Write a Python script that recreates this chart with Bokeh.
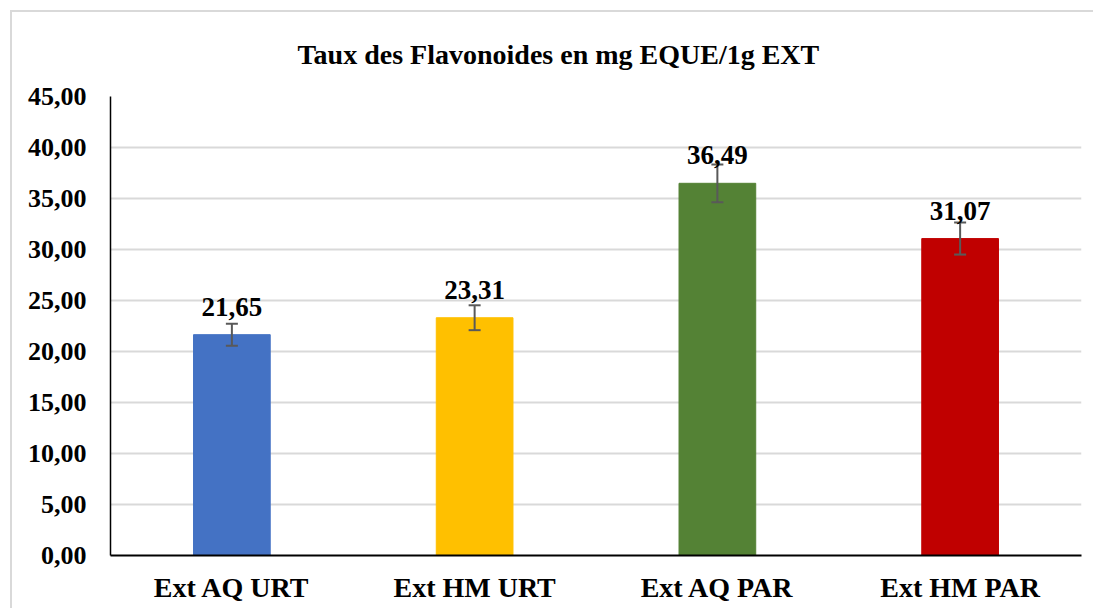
from bokeh.plotting import figure
from bokeh.models import (ColumnDataSource, FactorRange, Range1d, FixedTicker,
                          Whisker, TeeHead, LabelSet)
from bokeh.embed import file_html
from bokeh.resources import INLINE

# ---- data ----
categories = ["Ext AQ URT", "Ext HM URT", "Ext AQ PAR", "Ext HM PAR"]
values = [21.65, 23.31, 36.49, 31.07]
errors = [1.08, 1.22, 1.85, 1.57]
value_labels = ["21,65", "23,31", "36,49", "31,07"]
colors = ["#4472C4", "#FFC000", "#548235", "#C00000"]
y_ticks = [0, 5, 10, 15, 20, 25, 30, 35, 40, 45]
y_tick_labels = ["0,00", "5,00", "10,00", "15,00", "20,00", "25,00",
                 "30,00", "35,00", "40,00", "45,00"]
title_text = "Taux des Flavonoides en mg EQUE/1g EXT"

FONT = "Liberation Serif"

source = ColumnDataSource(dict(
    cat=categories,
    val=values,
    upper=[v + e for v, e in zip(values, errors)],
    lower=[v - e for v, e in zip(values, errors)],
    lab=value_labels,
    color=colors,
))

p = figure(x_range=FactorRange(*categories), y_range=Range1d(0, 45),
           width=1083, height=598, output_backend="svg", toolbar_location=None,
           min_border_left=98, min_border_right=14, min_border_top=84,
           min_border_bottom=55, title=title_text)
p.margin = (10, 0, 0, 10)
p.title.align = "left"
p.title.vertical_align = "top"
p.title.offset = 187
p.title.standoff = 50
p.title.text_font = FONT
p.title.text_font_style = "bold"
p.title.text_font_size = "28px"
p.title.text_color = "black"
p.outline_line_color = None
p.background_fill_color = "white"
p.border_fill_color = "white"

p.vbar(x="cat", top="val", width=0.316, color="color", source=source)

w = Whisker(base="cat", upper="upper", lower="lower", source=source,
            line_color="#595959", line_width=2, level="overlay",
            upper_head=TeeHead(size=12, line_color="#595959", line_width=2),
            lower_head=TeeHead(size=12, line_color="#595959", line_width=2))
p.add_layout(w)

labels = LabelSet(x="cat", y="val", text="lab", source=source,
                  text_align="center", text_baseline="alphabetic", y_offset=19,
                  text_font=FONT, text_font_style="bold", text_font_size="27px",
                  text_color="black", level="overlay")
p.add_layout(labels)

# y axis
p.yaxis.ticker = FixedTicker(ticks=y_ticks)
p.yaxis.major_label_overrides = {t: l for t, l in zip(y_ticks, y_tick_labels)}
p.yaxis.major_tick_line_color = None
p.yaxis.minor_tick_line_color = None
p.yaxis.axis_line_color = "black"
p.yaxis.axis_line_width = 1.5
p.yaxis.major_label_text_font = FONT
p.yaxis.major_label_text_font_style = "bold"
p.yaxis.major_label_text_font_size = "26px"
p.yaxis.major_label_text_color = "black"
p.yaxis.major_label_standoff = 18

# x axis
p.xaxis.major_tick_line_color = None
p.xaxis.axis_line_color = "black"
p.xaxis.axis_line_width = 2
p.xaxis.major_label_text_font = FONT
p.xaxis.major_label_text_font_style = "bold"
p.xaxis.major_label_text_font_size = "28px"
p.xaxis.major_label_text_color = "black"
p.xaxis.major_label_standoff = 10

p.xgrid.grid_line_color = None
p.ygrid.grid_line_color = "#d9d9d9"
p.ygrid.grid_line_width = 2

p.styles = {"border-left": "2px solid #d9d9d9", "border-top": "2px solid #d9d9d9"}

open("out.html", "w").write(file_html(p, INLINE))
